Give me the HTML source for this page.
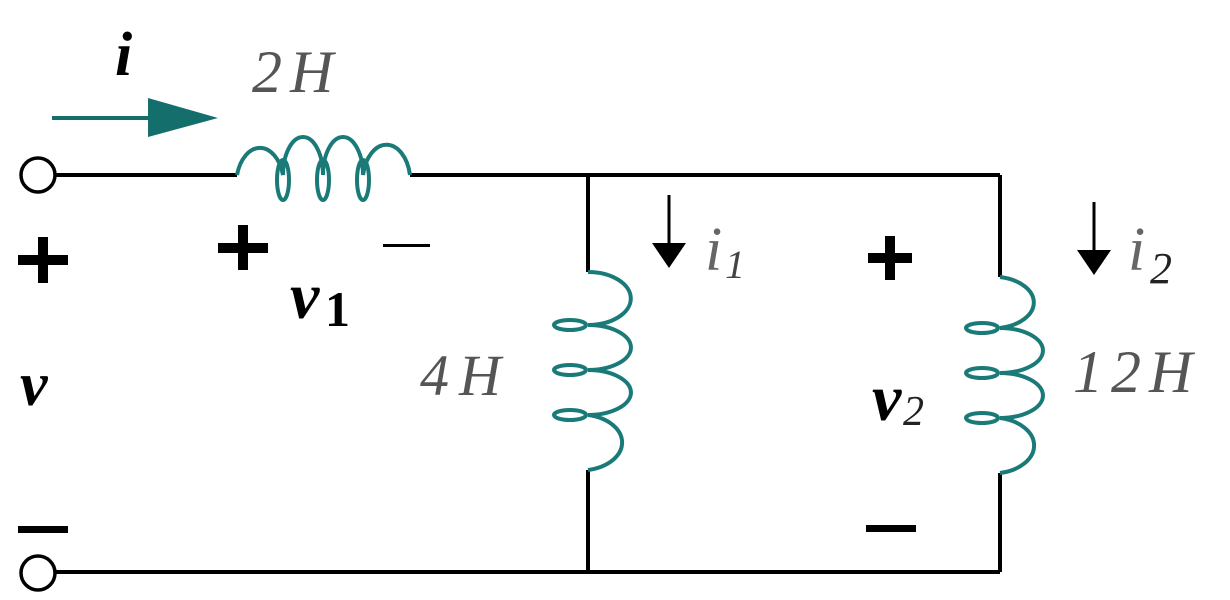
<!DOCTYPE html>
<html><head><style>html,body{margin:0;padding:0;background:#fff}svg{display:block}</style></head>
<body>
<svg width="1230" height="600" viewBox="0 0 1230 600" xmlns="http://www.w3.org/2000/svg">
<g stroke="#000" stroke-width="4" fill="none">
<line x1="55" y1="175" x2="237" y2="175"/>
<line x1="410" y1="175" x2="1000" y2="175"/>
<line x1="588" y1="175" x2="588" y2="272"/>
<line x1="588" y1="470" x2="588" y2="572"/>
<line x1="1000" y1="175" x2="1000" y2="277"/>
<line x1="1000" y1="473" x2="1000" y2="572"/>
<line x1="55" y1="572" x2="1000" y2="572"/>
<circle cx="38" cy="175" r="17" stroke-width="3.5"/>
<circle cx="38" cy="573" r="17" stroke-width="3.5"/>
<line x1="669" y1="195" x2="669" y2="245" stroke-width="3"/>
<line x1="1094" y1="202" x2="1094" y2="252" stroke-width="3"/>
</g>
<polygon points="652,243 686,243 669,268" fill="#000"/>
<polygon points="1077,250 1111,250 1094,275" fill="#000"/>
<line x1="52" y1="118" x2="150" y2="118" stroke="#136e6c" stroke-width="4"/>
<polygon points="148,98 218,118 148,137" fill="#136e6c"/>
<g stroke="#1a7a78" stroke-width="4" fill="none">
<path d="M237 175 A24 38 0 0 1 283 175 A20 38 0 0 1 323 175 A20 38 0 0 1 363 175 A24 38 0 0 1 410 175"/>
<ellipse cx="283" cy="180" rx="6" ry="20"/>
<ellipse cx="323" cy="180" rx="6" ry="20"/>
<ellipse cx="363" cy="180" rx="6" ry="20"/>
<path d="M588 272 A42 26 0 0 1 588 325 A42 22 0 0 1 588 370 A42 22 0 0 1 588 415 A42 28 0 0 1 588 470"/>
<ellipse cx="570" cy="325" rx="16" ry="5"/>
<ellipse cx="570" cy="370" rx="16" ry="5"/>
<ellipse cx="570" cy="415" rx="16" ry="5"/>
<path d="M1000 277 A42 26 0 0 1 1000 328 A42 22 0 0 1 1000 373 A42 22 0 0 1 1000 418 A42 28 0 0 1 1000 473"/>
<ellipse cx="982" cy="328" rx="16" ry="5"/>
<ellipse cx="982" cy="373" rx="16" ry="5"/>
<ellipse cx="982" cy="418" rx="16" ry="5"/>
</g>
<g fill="#000">
<rect x="18" y="255" width="50" height="10"/><rect x="38" y="237" width="10" height="46"/>
<rect x="218" y="243" width="50" height="10"/><rect x="238" y="225" width="10" height="45"/>
<rect x="868" y="253" width="44" height="10"/><rect x="885" y="236" width="10" height="44"/>
<rect x="18" y="526" width="50" height="7"/>
<rect x="866" y="525" width="50" height="7"/>
<rect x="383" y="244" width="47" height="3"/>
</g>
<g font-family="Liberation Serif, serif" font-style="italic">
<text x="115" y="75" font-size="62" font-weight="bold">i</text>
<text x="252" y="92" font-size="60" fill="#555" letter-spacing="8">2H</text>
<text x="290" y="318" font-size="66" font-weight="bold">v</text>
<text x="325" y="326" font-size="50" font-weight="bold" font-style="normal">1</text>
<text x="420" y="395" font-size="58" fill="#555" letter-spacing="10">4H</text>
<text x="20" y="405" font-size="62" font-weight="bold">v</text>
<text x="705" y="270" font-size="62" fill="#666">i</text>
<text x="725" y="278" font-size="40" fill="#444">1</text>
<text x="1128" y="270" font-size="62" fill="#666">i</text>
<text x="1150" y="283" font-size="44" fill="#222">2</text>
<text x="1073" y="392" font-size="60" fill="#555" letter-spacing="8">12H</text>
<text x="872" y="420" font-size="66" font-weight="bold">v</text>
<text x="903" y="425" font-size="42" fill="#222">2</text>
</g>
</svg>
</body></html>
